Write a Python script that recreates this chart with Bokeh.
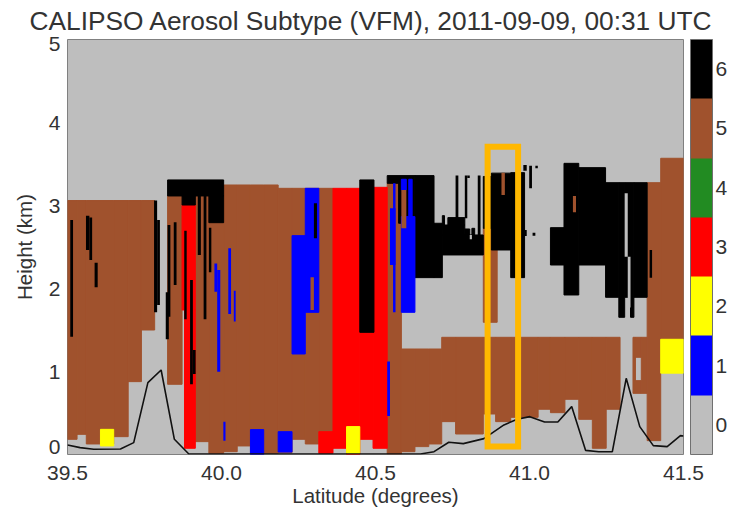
from bokeh.plotting import figure
from bokeh.embed import file_html
from bokeh.resources import INLINE
from bokeh.models import ColorBar, LinearColorMapper, FixedTicker, Range1d

FONT = "Liberation Sans"
INK = "#333333"
subtype_ticks = [0, 1, 2, 3, 4, 5, 6]
subtype_colors = ["#BEBEBE", "#0000FF", "#FFFF00", "#FF0000", "#228B22", "#A0522D", "#000000"]
lat_ticks = [39.5, 40.0, 40.5, 41.0, 41.5]
height_ticks = [0.096, 1, 2, 3, 4, 4.94]
height_tick_labels = ["0", "1", "2", "3", "4", "5"]

# each cell: (lat start, lat end, height bottom, height top)
brown_cells = [
    (39.500,39.531,0.183,3.06),(39.531,39.561,0.243,3.06),(39.561,39.650,0.127,3.06),
    (39.650,39.697,0.215,3.06),(39.697,39.740,0.878,3.06),(39.740,39.783,1.50,3.06),
    (39.825,39.872,0.846,3.115),(39.915,39.959,0.155,3.147),(39.959,40.007,0.014,3.2),
    (40.007,40.051,0.034,3.247),(40.051,40.094,0.103,3.247),(40.094,40.137,0.01,3.247),
    (40.137,40.184,0.014,3.247),(40.184,40.229,0.02,3.207),(40.229,40.272,0.183,3.207),
    (40.272,40.316,0.127,3.207),(40.316,40.362,0.275,3.207),
    (40.538,40.584,0.006,3.267),(40.584,40.628,0.034,1.271),(40.628,40.673,0.095,1.271),
    (40.673,40.715,0.127,1.271),(40.715,40.760,0.396,1.412),(40.760,40.850,0.247,1.412),
    (40.850,40.890,0.488,1.412),(40.890,40.939,0.396,1.412),(40.939,41.028,0.448,1.412),
    (41.028,41.068,0.545,1.412),(41.068,41.115,0.504,1.412),(41.115,41.160,0.665,1.412),
    (41.160,41.204,0.424,1.412),(41.204,41.249,0.075,1.412),(41.249,41.294,0.545,1.412),
    (41.336,41.344,0.737,1.412),(41.344,41.363,1.171,1.412),(41.344,41.363,0.737,0.890),
    (41.363,41.382,0.737,1.412),(41.382,41.426,0.167,3.275),(41.426,41.500,1.388,3.569),
    (40.850,40.895,1.593,2.725),
]
red_cells = [
    (39.872,39.915,1.741,3.006),(39.880,39.915,0.075,1.741),(40.316,40.362,0.014,0.275),
    (40.362,40.406,0.075,3.207),(40.406,40.449,0.0,3.207),(40.449,40.492,0.183,3.207),
    (40.492,40.538,0.075,3.219),
]
yellow_cells = [
    (41.426,41.500,0.98,1.388),(39.607,39.650,0.103,0.303),(40.406,40.449,0.014,0.336),
]
black_cells = [
    (40.449,40.495,1.472,3.308),(39.825,40.007,3.115,3.308),(39.872,39.915,3.006,3.115),
    (39.959,40.007,2.793,3.115),(40.538,40.628,3.267,3.36),(40.575,40.584,2.786,3.267),
    (40.584,40.600,3.187,3.267),(40.600,40.628,2.866,3.267),(40.628,40.690,2.131,3.36),
    (40.690,40.717,2.131,2.786),(40.717,40.850,2.404,2.645),(40.717,40.790,2.645,2.765),
    (40.717,40.724,2.765,2.878),(40.735,40.790,2.765,2.854),(40.790,40.806,2.645,2.717),
    (40.813,40.822,2.645,2.725),(40.850,40.876,2.725,3.35),
    (40.876,40.939,2.464,3.39),(40.939,40.984,2.131,3.396),
    (41.068,41.112,2.283,2.733),(41.112,41.160,1.922,3.508),(41.160,41.247,2.283,3.456),
    (41.247,41.290,1.894,3.275),(41.290,41.309,1.653,3.275),(41.309,41.328,1.894,3.275),
    (41.328,41.339,1.653,3.275),(41.339,41.382,1.894,3.275),
]
blue_cells = [
    (40.229,40.272,1.211,2.637),(40.272,40.316,1.713,3.207),
    (40.094,40.137,0.0,0.30),(40.184,40.229,0.03,0.275),
    (40.584,40.628,1.713,2.866),(40.584,40.600,3.187,3.316),(40.608,40.619,2.866,3.316),
]
thin_blue_cells = [
    (39.977,39.986,1.962,2.30),(39.986,39.996,0.998,2.223),(40.022,40.031,1.693,2.484),
    (40.040,40.046,1.601,1.974),(40.006,40.013,0.167,0.396),
    (40.547,40.565,2.283,2.966),(40.557,40.565,1.713,3.267),(40.538,40.547,0.464,1.119),
]
thin_black_cells = [
    (39.509,39.518,1.42,2.826),(39.560,39.571,2.464,2.878),(39.571,39.580,2.344,2.854),
    (39.588,39.598,2.014,2.31),(39.781,39.791,1.713,3.06),(39.791,39.800,1.80,2.826),
    (39.825,39.834,1.66,2.765),(39.819,39.829,1.388,1.954),(39.845,39.854,2.042,2.797),
    (39.879,39.887,1.629,2.697),(39.898,39.907,0.846,2.103),(39.907,39.916,0.97,1.259),
    (39.923,39.933,2.404,3.127),(39.942,39.951,1.629,3.147),(39.959,39.967,2.195,2.733),
    (40.300,40.310,2.605,3.026),(41.390,41.398,2.131,2.464),
    (40.760,40.769,2.846,3.36),(40.790,40.798,2.846,3.36),(40.798,40.806,3.33,3.36),
    (40.832,40.841,2.645,3.36),
    (40.980,40.991,3.420,3.488),(40.999,41.008,3.207,3.480),(41.019,41.027,3.448,3.480),
    (40.984,40.991,2.633,2.705),(41.010,41.019,2.637,2.673),
]
thin_brown_cells = [
    (40.909,40.920,3.127,3.396),(41.141,41.151,2.918,3.115),(40.289,40.300,1.741,2.135),
    (40.584,40.600,2.725,3.187),
]
thin_gray_cells = [
    (40.806,40.813,2.593,2.645),(41.309,41.319,2.384,3.147),(41.319,41.328,1.772,2.384),
]
surface_lat = [39.5,39.541,39.585,39.672,39.715,39.761,39.804,39.847,39.894,40.484,40.646,40.690,
               40.738,40.785,40.852,40.917,40.960,41.001,41.049,41.092,41.137,41.182,41.225,41.269,
               41.314,41.358,41.402,41.447,41.490,41.5]
surface_height = [0.115,0.083,0.063,0.067,0.143,0.866,1.018,0.183,0.006,0.006,0.006,0.034,
                  0.147,0.131,0.191,0.356,0.424,0.456,0.392,0.392,0.577,0.050,0.034,0.034,
                  0.918,0.336,0.107,0.095,0.227,0.223]
box_lat = [40.864, 40.963]
box_height = [0.095, 3.709]

p = figure(frame_width=616, frame_height=415, output_backend="svg", toolbar_location=None,
           x_range=Range1d(39.5, 41.5), y_range=Range1d(0, 5),
           min_border_left=67, min_border_top=39, min_border_bottom=50, min_border_right=8,
           title="CALIPSO Aerosol Subtype (VFM), 2011-09-09, 00:31 UTC", border_fill_color="white")
p.background_fill_color = subtype_colors[0]
p.grid.visible = False
p.outline_line_color = "#808080"
p.title.text_font = FONT
p.title.text_font_size = "26.3px"
p.title.text_font_style = "normal"
p.title.text_color = INK
p.title.align = "left"
p.title.offset = -38
p.title.standoff = 4
p.title.vertical_align = "top"

def draw(cells, color, width=1):
    p.quad(left=[c[0] for c in cells], right=[c[1] for c in cells],
           bottom=[c[2] for c in cells], top=[c[3] for c in cells],
           fill_color=color, line_color=color if width else None, line_width=width)

draw(brown_cells, subtype_colors[5])
draw(red_cells, subtype_colors[3])
draw(yellow_cells, subtype_colors[2])
draw(black_cells, subtype_colors[6])
draw(blue_cells, subtype_colors[1])
draw(thin_blue_cells, subtype_colors[1], 0)
draw(thin_black_cells, subtype_colors[6], 0)
draw(thin_brown_cells, subtype_colors[5], 0)
draw(thin_gray_cells, subtype_colors[0], 0)
p.line(surface_lat, surface_height, line_color="#111111", line_width=1.6)
p.quad(left=[box_lat[0]], right=[box_lat[1]], bottom=[box_height[0]], top=[box_height[1]],
       fill_color=None, line_color="#FFB800", line_width=6, line_join="miter")

for ax in (p.xaxis[0], p.yaxis[0]):
    ax.axis_line_color = None
    ax.major_tick_line_color = None
    ax.minor_tick_line_color = None
    ax.major_label_text_font = FONT
    ax.major_label_text_font_size = "21px"
    ax.major_label_text_color = INK
    ax.axis_label_text_font = FONT
    ax.axis_label_text_font_size = "20.5px"
    ax.axis_label_text_font_style = "normal"
    ax.axis_label_text_color = INK
p.xaxis[0].ticker = FixedTicker(ticks=lat_ticks)
p.xaxis[0].major_label_overrides = {t: f"{t:.1f}" for t in lat_ticks}
p.xaxis[0].major_label_standoff = 5
p.xaxis[0].axis_label = "Latitude (degrees)"
p.xaxis[0].axis_label_standoff = 1
p.yaxis[0].ticker = FixedTicker(ticks=height_ticks)
p.yaxis[0].major_label_overrides = dict(zip(height_ticks, height_tick_labels))
p.yaxis[0].major_label_standoff = 1
p.yaxis[0].major_label_orientation = "horizontal"
p.yaxis[0].axis_label = "Height (km)"
p.yaxis[0].axis_label_standoff = 10

mapper = LinearColorMapper(palette=subtype_colors, low=-0.5, high=6.5)
cb = ColorBar(color_mapper=mapper, ticker=FixedTicker(ticks=subtype_ticks), width=22, height=415,
              padding=0, margin=7, location=(7, 0), bar_line_color="#707070", major_tick_line_color=None,
              minor_tick_line_color=None, major_label_text_font=FONT, major_label_text_font_size="21px",
              major_label_text_color=INK, label_standoff=3)
p.add_layout(cb, "right")

open("out.html", "w").write(file_html(p, INLINE))
